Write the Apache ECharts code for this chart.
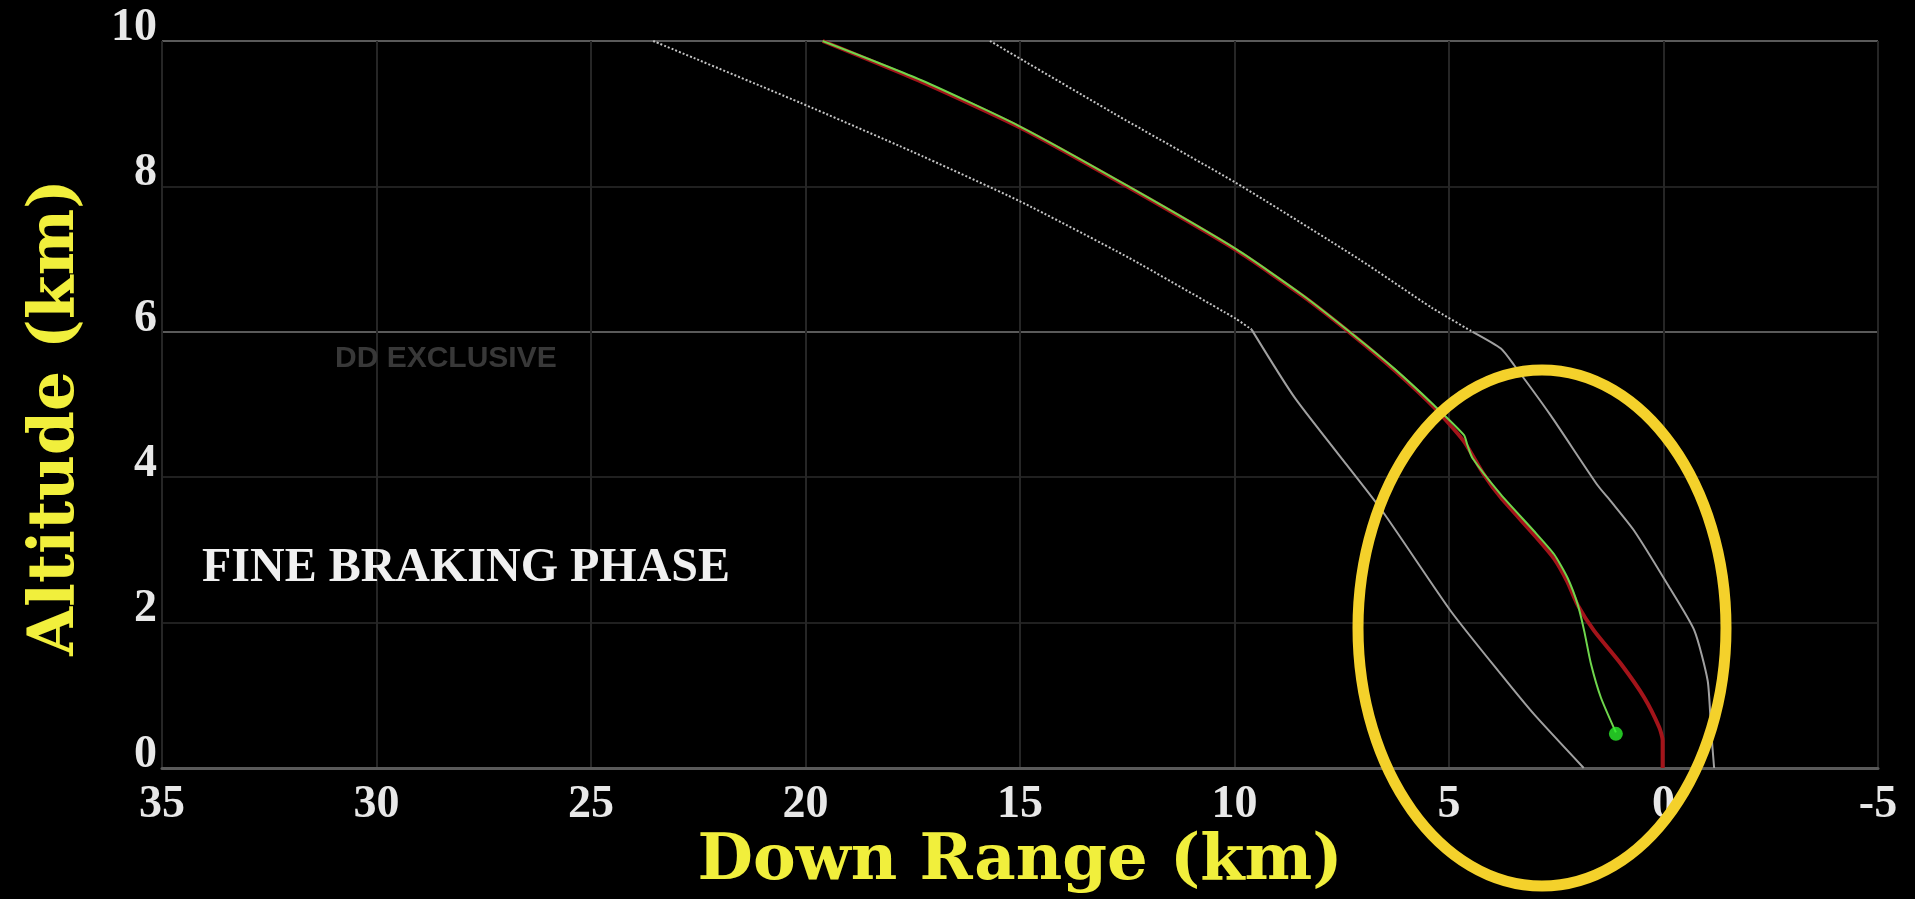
<!DOCTYPE html>
<html>
<head>
<meta charset="utf-8">
<style>
html,body{margin:0;padding:0;background:#000;overflow:hidden;}
#chart{width:1915px;height:899px;}
</style>
<script src="https://cdn.jsdelivr.net/npm/echarts@6/dist/echarts.min.js"></script>
</head>
<body>
<div id="chart"></div>
<script>
// ---- axis setup (km) ----
const xRange = [-5, 35];
const xStep = 5;
const yRange = [0, 10];
const yStep = 2;

// ---- data: [down range km, altitude km] ----
const upperLimitDotted = [[15.7,10.0],[12.83,9.01],[9.97,8.05],[7.10,7.00],[5.40,6.33],[4.45,6.00]];
const upperLimitSolid  = [[4.45,6.00],[3.79,5.77],[3.48,5.54],[2.63,4.85],[1.55,3.90],[1.23,3.67],[0.68,3.26],[-0.10,2.52],[-0.72,1.89],[-1.03,1.20],[-1.11,0.52],[-1.18,0.0]];
const lowerLimitDotted = [[23.55,10.0],[20.12,9.15],[17.52,8.48],[15.02,7.80],[12.47,7.02],[9.97,6.18],[9.60,6.03]];
const lowerLimitSolid  = [[9.60,6.03],[8.58,5.08],[6.61,3.58],[4.96,2.16],[3.79,1.29],[3.02,0.74],[1.86,0.0]];
const nominalPath = [[19.6,10.0],[17.3,9.44],[15.0,8.81],[12.45,7.98],[9.95,7.12],[8.38,6.48],[7.19,5.93],[6.25,5.46],[5.33,4.95],[4.66,4.50],[4.20,4.05],[3.79,3.72],[3.02,3.21],[2.55,2.88],[2.24,2.56],[2.00,2.24],[1.62,1.89],[0.99,1.43],[0.45,0.97],[0.10,0.56],[0.02,0.38],[0.02,0.0]];
const actualPath  = [[19.6,10.0],[17.3,9.46],[15.02,8.83],[12.47,8.00],[9.97,7.14],[8.40,6.50],[7.21,5.95],[6.27,5.49],[5.35,4.99],[4.65,4.58],[4.57,4.44],[4.45,4.26],[3.79,3.76],[3.02,3.26],[2.55,2.94],[2.24,2.62],[2.00,2.25],[1.85,1.89],[1.69,1.43],[1.46,0.97],[1.11,0.49]];
const landerNow   = [[1.11,0.47]];

const chart = echarts.init(document.getElementById('chart'), null, {renderer:'canvas'});

const tickFont = {fontFamily:'Liberation Serif', fontWeight:'bold', fontSize:46, color:'#e8e8e8'};
const titleFont = {fontFamily:'DejaVu Serif', fontWeight:'bold', fontSize:64, color:'#f1ef3c'};

function lineSeries(name, data, color, width, type, z, smooth){
  return {name, type:'line', data, showSymbol:false, symbol:'none', silent:true, z:z,
    smooth: smooth || false,
    lineStyle:{color, width, type}, animation:false};
}

chart.setOption({
  backgroundColor:'#000000',
  animation:false,
  grid:{left:162, right:37, top:41, bottom:128},
  xAxis:{
    type:'value', inverse:true, min:xRange[0], max:xRange[1], interval:xStep,
    name:'Down Range (km)', nameLocation:'middle', nameGap:62, nameMoveOverlap:false,
    nameTextStyle:titleFont,
    axisLine:{show:true, lineStyle:{color:'#5a5a5a', width:3}},
    axisTick:{show:false},
    axisLabel:Object.assign({margin:14}, tickFont),
    splitLine:{show:true, lineStyle:{color:'#262626', width:2}}
  },
  yAxis:{
    type:'value', min:yRange[0], max:yRange[1], interval:yStep,
    name:'Altitude (km)', nameLocation:'middle', nameGap:74, nameRotate:90, nameMoveOverlap:false,
    nameTextStyle:Object.assign({padding:[0,26,0,0]}, titleFont, {fontSize:63}),
    axisLine:{show:false},
    axisTick:{show:false},
    axisLabel:Object.assign({margin:5, verticalAlign:'bottom', lineHeight:26}, tickFont),
    splitLine:{show:true, lineStyle:{color:['#5a5a5a','#202020','#202020','#5a5a5a','#202020','#5a5a5a'], width:2}}
  },
  series:[
    lineSeries('Upper limit', upperLimitDotted, '#c4c4c4', 2, [2,2], 3, 0.2),
    lineSeries('Upper limit lower', upperLimitSolid, '#a0a0a0', 2, 'solid', 3, 0.2),
    lineSeries('Lower limit', lowerLimitDotted, '#c4c4c4', 2, [2,2], 3, 0.2),
    lineSeries('Lower limit lower', lowerLimitSolid, '#a0a0a0', 2, 'solid', 3, 0.2),
    lineSeries('Nominal', nominalPath, '#a3141a', 4, 'solid', 4, 0.2),
    lineSeries('Actual', actualPath, '#6fd64c', 2, 'solid', 5, 0.2),
    {name:'Lander', type:'scatter', data:landerNow, symbol:'circle', symbolSize:14, silent:true, z:6,
     itemStyle:{color:'#2cf02c'}, animation:false}
  ],
  graphic:[
    {type:'text', left:335, top:344, z:1, silent:true,
     style:{text:'DD EXCLUSIVE', font:'bold 30px "Liberation Sans"', fill:'#383838'}},
    {type:'text', left:202, top:545, z:10, silent:true,
     style:{text:'FINE BRAKING PHASE', font:'bold 48px "Liberation Serif"', fill:'#f0f0f0'}},
    {type:'ellipse', z:20, silent:true,
     shape:{cx:1542, cy:628, rx:184, ry:258},
     style:{fill:'none', stroke:'#f4d12b', lineWidth:11}}
  ]
});
</script>
</body>
</html>
